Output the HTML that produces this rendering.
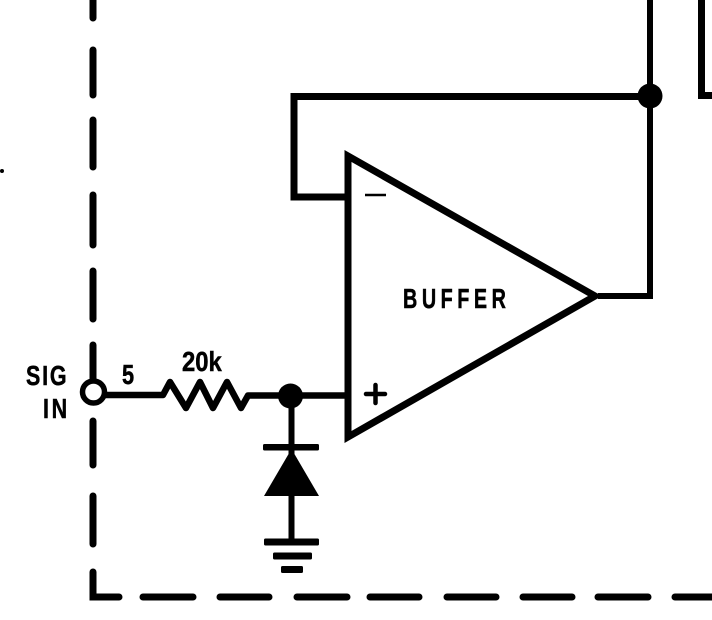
<!DOCTYPE html>
<html>
<head>
<meta charset="utf-8">
<style>
html,body{margin:0;padding:0;background:#fff;width:712px;height:620px;overflow:hidden}
svg{display:block}
text{font-family:"Liberation Sans",sans-serif;font-weight:bold;fill:#000;stroke:#000;stroke-width:.5px}
</style>
</head>
<body>
<svg width="712" height="620" viewBox="0 0 712 620" xmlns="http://www.w3.org/2000/svg">
<rect width="712" height="620" fill="#fff"/>
<!-- dashed boundary -->
<g stroke="#000" stroke-width="7" stroke-linecap="round" fill="none">
<path d="M93 -5V18M93 50V95M93 120V167M93 195V245M93 271V319M93 345V380M93 421V465M93 496V544"/>
<path d="M93 572V597H119M143 597H193M220 597H269M297 597H347M370 597H419M447 597H496M523 597H572M598 597H648M675 597H720"/>
</g>
<circle cx="2" cy="171" r="2" fill="#000"/>
<!-- feedback and op amp -->
<path d="M350 197H294V96.5H650" fill="none" stroke="#000" stroke-width="7"/>
<path d="M348 156V437L595 296Z" fill="#fff" stroke="#000" stroke-width="7" stroke-linejoin="miter" stroke-miterlimit="10"/>
<path d="M598 296H650V0" fill="none" stroke="#000" stroke-width="6"/>
<circle cx="650" cy="96" r="12.500" fill="#000"/>
<!-- right box fragment -->
<path d="M701.500 0V95.500H712" fill="none" stroke="#000" stroke-width="7"/>
<!-- input -->
<circle cx="93.500" cy="392" r="11" fill="#fff" stroke="#000" stroke-width="5.500"/>
<path d="M105 395H163L170 382L186 408L200 382L213 408L227 382L241 408L248 395.500H348" fill="none" stroke="#000" stroke-width="6.500" stroke-linejoin="round"/>
<circle cx="290.500" cy="396" r="12.500" fill="#000"/>
<!-- diode and ground -->
<path d="M291.500 396V542" stroke="#000" stroke-width="6" fill="none"/>
<rect x="263" y="444" width="56" height="6.500" rx="1.500" fill="#000"/>
<path d="M291.500 449L319 496H264Z" fill="#000"/>
<rect x="264" y="538.500" width="55" height="7" rx="1.500" fill="#000"/>
<rect x="273" y="552.500" width="39" height="7" rx="1.500" fill="#000"/>
<rect x="281" y="566" width="22" height="7" rx="1.500" fill="#000"/>
<!-- plus, minus -->
<path d="M366 394H385M375.500 385V403" stroke="#000" stroke-width="4.500" stroke-linecap="round" fill="none"/>
<path d="M365 195H386" stroke="#000" stroke-width="2.500" fill="none"/>
<!-- labels -->
<text transform="translate(26 385) scale(.78 1)" font-size="27.500" textLength="52" lengthAdjust="spacing">SIG</text>
<text transform="translate(43 418) scale(.78 1)" font-size="27.500" textLength="31" lengthAdjust="spacing">IN</text>
<text transform="translate(122 384) scale(.78 1)" font-size="27.500" textLength="15.500" lengthAdjust="spacingAndGlyphs">5</text>
<text transform="translate(182 371) scale(.78 1)" font-size="27.500" textLength="51" lengthAdjust="spacingAndGlyphs">20k</text>
<text transform="translate(403 308) scale(.72 1)" font-size="27.500" textLength="143" lengthAdjust="spacing">BUFFER</text>
</svg>
</body>
</html>
